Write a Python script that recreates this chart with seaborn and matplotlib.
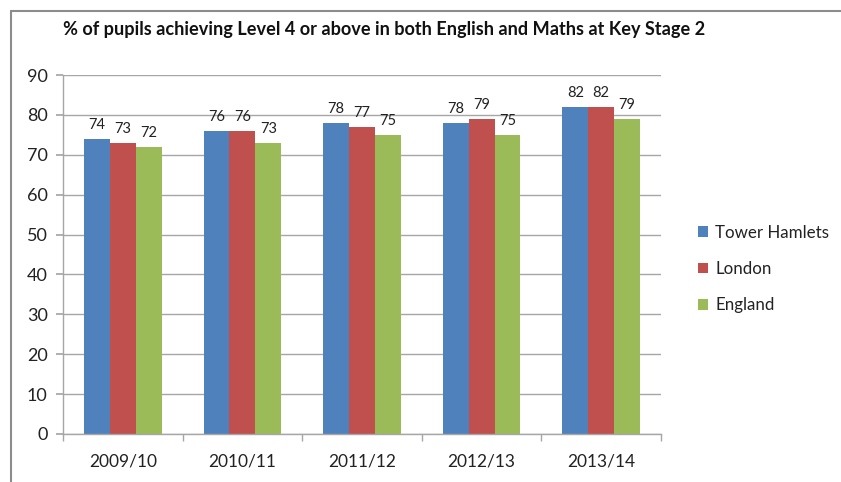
import matplotlib
matplotlib.use("Agg")
import matplotlib.pyplot as plt
from matplotlib.lines import Line2D
from matplotlib.patches import Patch
import seaborn as sns
import pandas as pd

years = ["2009/10", "2010/11", "2011/12", "2012/13", "2013/14"]
series_names = ["Tower Hamlets", "London", "England"]
tower_hamlets = [74, 76, 78, 78, 82]
london = [73, 76, 77, 79, 82]
england = [72, 73, 75, 75, 79]
colors = ["#4F81BD", "#C0504D", "#9BBB59"]
title = "% of pupils achieving Level 4 or above in both English and Maths at Key Stage 2"
yticks = [0, 10, 20, 30, 40, 50, 60, 70, 80, 90]

rows = []
for name, vals in zip(series_names, [tower_hamlets, london, england]):
    for y, v in zip(years, vals):
        rows.append({"Year": y, "Area": name, "Value": v})
df = pd.DataFrame(rows)

sns.set_theme(style="white")
plt.rcParams["font.family"] = ["Lato", "DejaVu Sans"]

fig = plt.figure(figsize=(8.41, 4.82), dpi=100)
ax = fig.add_axes([63/841, 1 - 434/482, (661-63)/841, (434-75)/482])

sns.barplot(data=df, x="Year", y="Value", hue="Area", order=years,
            hue_order=series_names, palette=colors, width=0.65,
            saturation=1, ax=ax, legend=False, edgecolor="none")

for c in ax.containers:
    ax.bar_label(c, fmt="%d", padding=5, fontsize=10.5, color="#222222")

ax.set_ylim(0, 90)
ax.set_yticks(yticks)
ax.set_xlim(-0.5, 4.5)
ax.yaxis.grid(True, color="#A6A6A6", linewidth=1)
ax.set_axisbelow(True)
ax.set_xlabel("")
ax.set_ylabel("")
for s in ["top", "right"]:
    ax.spines[s].set_visible(False)
for s in ["left", "bottom"]:
    ax.spines[s].set_color("#A6A6A6")
    ax.spines[s].set_linewidth(1)
ax.tick_params(axis="y", which="major", length=5, color="#A6A6A6", left=True,
               labelsize=13, labelcolor="#222222", pad=6)
ax.tick_params(axis="x", which="major", length=0, labelsize=12.5,
               labelcolor="#222222", pad=14)
ax.set_xticks([i - 0.5 for i in range(6)], minor=True)
ax.tick_params(axis="x", which="minor", length=5, color="#A6A6A6", bottom=True)

fig.text(63/841, 1 - 30/482, title, fontsize=13.1, fontweight="bold",
         va="center", ha="left", color="#111111")

handles = [Patch(facecolor=c, edgecolor="none") for c in colors]
fig.legend(handles, series_names, loc="center left",
           bbox_to_anchor=(683/841, 1 - 269/482), frameon=False,
           fontsize=12.2, handlelength=0.6, handleheight=0.6,
           handletextpad=0.4, labelspacing=1.2, labelcolor="#222222")

fig.add_artist(Line2D([11/841, 11/841], [0, 1 - 11/482], transform=fig.transFigure,
                      color="#8C8C8C", linewidth=1.5))
fig.add_artist(Line2D([11/841, 1], [1 - 11/482, 1 - 11/482], transform=fig.transFigure,
                      color="#8C8C8C", linewidth=1.5))

fig.savefig("out.png", dpi=100)
